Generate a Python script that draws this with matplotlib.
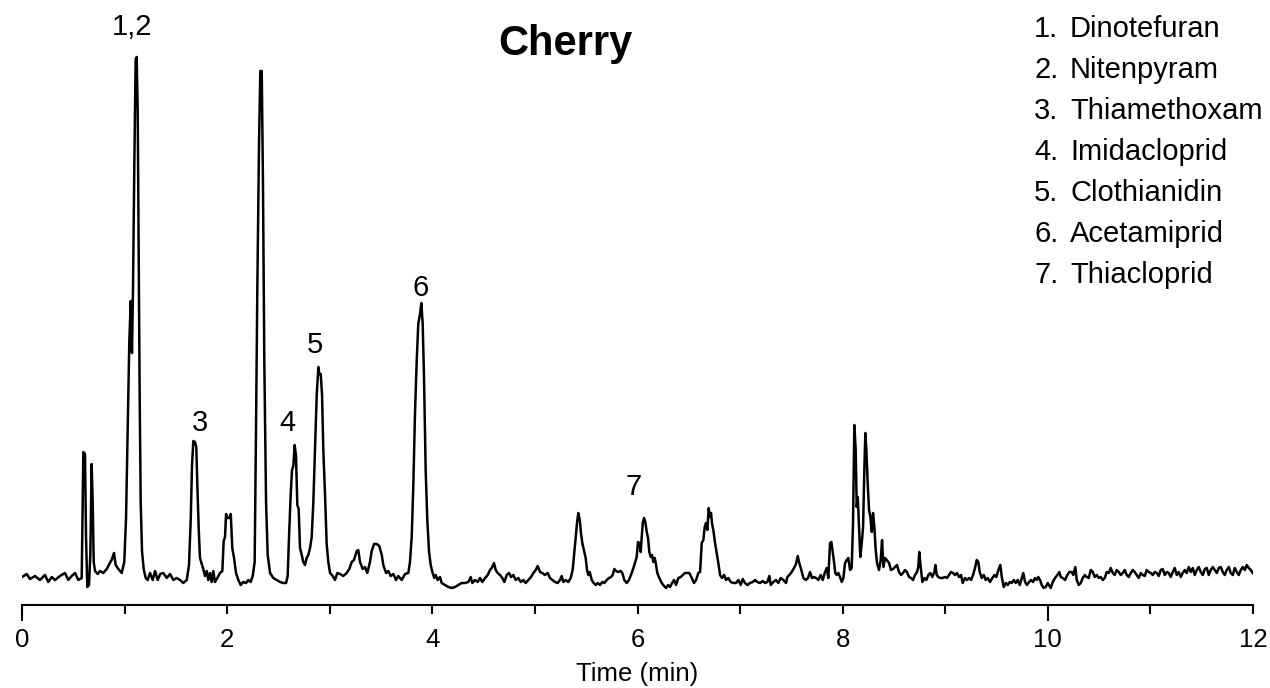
import matplotlib
matplotlib.use('Agg')
import matplotlib.pyplot as plt

plt.rcParams['font.family'] = ['Liberation Sans', 'DejaVu Sans']

# chromatogram: retention time (min) and detector response (arb.)
time_min = [
    0.000, 0.046, 0.078, 0.127, 0.175, 0.224, 0.256, 0.290, 0.322, 0.370,
    0.419, 0.451, 0.484, 0.517, 0.549, 0.582, 0.592, 0.598, 0.614, 0.624,
    0.637, 0.653, 0.666, 0.679, 0.689, 0.699, 0.712, 0.738, 0.760, 0.793,
    0.826, 0.851, 0.874, 0.897, 0.913, 0.939, 0.972, 0.997, 1.014, 1.030,
    1.046, 1.060, 1.072, 1.082, 1.095, 1.108, 1.118, 1.128, 1.138, 1.147,
    1.157, 1.170, 1.186, 1.206, 1.225, 1.248, 1.274, 1.297, 1.323, 1.348,
    1.377, 1.411, 1.443, 1.475, 1.508, 1.540, 1.572, 1.606, 1.628, 1.645,
    1.657, 1.670, 1.686, 1.699, 1.709, 1.723, 1.735, 1.752, 1.767, 1.784,
    1.801, 1.816, 1.833, 1.849, 1.865, 1.881, 1.904, 1.930, 1.953, 1.966,
    1.979, 1.989, 2.001, 2.021, 2.035, 2.050, 2.067, 2.086, 2.109, 2.132,
    2.157, 2.184, 2.206, 2.229, 2.249, 2.268, 2.281, 2.294, 2.310, 2.323,
    2.337, 2.349, 2.362, 2.379, 2.395, 2.418, 2.450, 2.483, 2.515, 2.547,
    2.574, 2.590, 2.603, 2.619, 2.632, 2.645, 2.658, 2.671, 2.684, 2.697,
    2.710, 2.727, 2.742, 2.759, 2.775, 2.791, 2.808, 2.824, 2.840, 2.856,
    2.873, 2.889, 2.898, 2.912, 2.925, 2.937, 2.954, 2.970, 2.986, 3.003,
    3.029, 3.051, 3.074, 3.100, 3.132, 3.165, 3.191, 3.214, 3.236, 3.263,
    3.278, 3.295, 3.321, 3.344, 3.366, 3.392, 3.409, 3.432, 3.458, 3.483,
    3.507, 3.522, 3.549, 3.571, 3.594, 3.620, 3.646, 3.668, 3.701, 3.734,
    3.766, 3.782, 3.799, 3.815, 3.831, 3.848, 3.863, 3.880, 3.893, 3.906,
    3.919, 3.935, 3.951, 3.968, 3.984, 4.000, 4.019, 4.033, 4.052, 4.075,
    4.091, 4.124, 4.156, 4.189, 4.221, 4.253, 4.286, 4.319, 4.351, 4.374,
    4.390, 4.416, 4.442, 4.465, 4.487, 4.514, 4.540, 4.562, 4.579, 4.601,
    4.618, 4.637, 4.660, 4.682, 4.702, 4.725, 4.748, 4.767, 4.790, 4.813,
    4.838, 4.862, 4.887, 4.910, 4.936, 4.962, 4.985, 5.008, 5.027, 5.050,
    5.072, 5.098, 5.125, 5.147, 5.170, 5.196, 5.222, 5.245, 5.261, 5.277,
    5.300, 5.326, 5.349, 5.368, 5.384, 5.398, 5.410, 5.423, 5.437, 5.449,
    5.462, 5.482, 5.495, 5.508, 5.521, 5.534, 5.554, 5.573, 5.593, 5.612,
    5.635, 5.657, 5.677, 5.700, 5.722, 5.742, 5.758, 5.774, 5.791, 5.813,
    5.836, 5.852, 5.871, 5.895, 5.917, 5.944, 5.969, 5.992, 6.005, 6.018,
    6.031, 6.041, 6.051, 6.064, 6.076, 6.090, 6.103, 6.115, 6.129, 6.142,
    6.154, 6.168, 6.181, 6.193, 6.213, 6.236, 6.259, 6.278, 6.298, 6.317,
    6.337, 6.356, 6.376, 6.398, 6.421, 6.441, 6.463, 6.486, 6.505, 6.529,
    6.551, 6.571, 6.593, 6.610, 6.626, 6.642, 6.655, 6.668, 6.681, 6.694,
    6.707, 6.717, 6.726, 6.739, 6.756, 6.772, 6.788, 6.805, 6.824, 6.844,
    6.863, 6.885, 6.909, 6.934, 6.960, 6.983, 7.006, 7.026, 7.048, 7.071,
    7.097, 7.123, 7.146, 7.168, 7.194, 7.221, 7.243, 7.266, 7.285, 7.299,
    7.324, 7.350, 7.373, 7.396, 7.422, 7.448, 7.461, 7.480, 7.503, 7.526,
    7.545, 7.562, 7.577, 7.597, 7.617, 7.640, 7.662, 7.682, 7.701, 7.721,
    7.740, 7.763, 7.786, 7.806, 7.825, 7.845, 7.860, 7.877, 7.890, 7.903,
    7.916, 7.928, 7.942, 7.958, 7.974, 7.991, 8.007, 8.023, 8.040, 8.055,
    8.072, 8.088, 8.101, 8.114, 8.127, 8.137, 8.147, 8.160, 8.172, 8.186,
    8.199, 8.212, 8.221, 8.231, 8.244, 8.257, 8.270, 8.284, 8.296, 8.309,
    8.322, 8.335, 8.354, 8.371, 8.384, 8.397, 8.413, 8.430, 8.452, 8.471,
    8.491, 8.510, 8.530, 8.549, 8.569, 8.588, 8.608, 8.627, 8.647, 8.666,
    8.686, 8.705, 8.725, 8.737, 8.747, 8.761, 8.777, 8.796, 8.816, 8.835,
    8.855, 8.874, 8.894, 8.904, 8.917, 8.933, 8.952, 8.972, 8.998, 9.017,
    9.037, 9.056, 9.076, 9.095, 9.115, 9.134, 9.154, 9.170, 9.193, 9.212,
    9.232, 9.251, 9.271, 9.290, 9.307, 9.322, 9.336, 9.356, 9.375, 9.395,
    9.414, 9.437, 9.459, 9.479, 9.498, 9.518, 9.537, 9.551, 9.570, 9.590,
    9.609, 9.629, 9.648, 9.668, 9.687, 9.707, 9.726, 9.746, 9.761, 9.778,
    9.797, 9.817, 9.836, 9.856, 9.875, 9.892, 9.907, 9.924, 9.940, 9.960,
    9.979, 9.999, 10.028, 10.048, 10.070, 10.093, 10.112, 10.126, 10.145, 10.168,
    10.190, 10.210, 10.233, 10.249, 10.268, 10.282, 10.301, 10.321, 10.340, 10.360,
    10.379, 10.399, 10.418, 10.438, 10.457, 10.477, 10.496, 10.516, 10.535, 10.555,
    10.574, 10.594, 10.613, 10.633, 10.652, 10.672, 10.691, 10.711, 10.730, 10.750,
    10.769, 10.789, 10.808, 10.828, 10.847, 10.867, 10.886, 10.906, 10.925, 10.945,
    10.964, 10.984, 11.003, 11.023, 11.042, 11.062, 11.081, 11.101, 11.120, 11.140,
    11.159, 11.179, 11.198, 11.218, 11.237, 11.257, 11.276, 11.296, 11.315, 11.335,
    11.354, 11.374, 11.393, 11.413, 11.432, 11.452, 11.471, 11.491, 11.510, 11.530,
    11.549, 11.569, 11.588, 11.608, 11.627, 11.647, 11.666, 11.686, 11.705, 11.725,
    11.744, 11.764, 11.783, 11.803, 11.822, 11.842, 11.861, 11.881, 11.900, 11.920,
    11.939, 11.959, 11.978, 11.997,
]
response = [
    3, 6, 1, 4, 0, 5, -2, 3, 0, 4,
    7, 0, 4, 7, 0, 2, 78, 128, 126, 43,
    -7, -5, 25, 116, 78, 18, 9, 6, 9, 7,
    11, 16, 20, 27, 15, 11, 7, 18, 61, 149,
    238, 279, 227, 291, 415, 521, 523, 468, 326, 185,
    78, 29, 11, 2, 0, 7, 0, 9, 0, 6,
    7, 2, 6, 0, 2, 0, -3, 0, 15, 61,
    114, 139, 138, 133, 96, 50, 22, 16, 11, 4,
    9, 0, 7, -2, 9, -2, 2, 7, 9, 39,
    43, 66, 62, 62, 66, 32, 22, 7, 0, -5,
    -2, -3, 0, -2, 4, 18, 149, 291, 433, 509,
    509, 397, 220, 78, 25, 7, 2, 0, -2, -3,
    -3, 4, 43, 85, 110, 114, 135, 124, 75, 71,
    32, 25, 18, 15, 22, 25, 32, 43, 78, 131,
    185, 213, 206, 206, 185, 131, 85, 36, 18, 7,
    4, 0, 7, 6, 4, 7, 11, 18, 20, 29,
    30, 18, 11, 13, 7, 18, 29, 36, 36, 34,
    25, 15, 7, 9, 4, 6, 0, 4, 0, 6,
    7, 18, 43, 96, 167, 220, 256, 266, 277, 256,
    202, 110, 60, 28, 15, 8, 2, 5, 0, 3,
    -3, -5, -7, -8, -7, -5, -3, -3, -2, 3,
    -3, 0, -2, 2, -2, 2, 5, 10, 12, 17,
    10, 7, 5, 2, -2, 5, 7, 3, 5, 0,
    2, -2, 0, -3, 0, 3, 7, 10, 14, 8,
    7, 5, 7, 2, 0, -2, -3, 0, 4, -2,
    0, -2, 2, 10, 27, 43, 57, 67, 60, 47,
    37, 28, 22, 10, 5, 8, 0, -3, -5, -3,
    -5, -2, -3, 0, 2, 3, 5, 11, 9, 8,
    9, 7, 0, -3, 0, 7, 15, 23, 38, 37,
    28, 43, 57, 62, 58, 48, 42, 28, 23, 25,
    18, 22, 15, 7, 2, -3, -6, -8, -5, -7,
    -3, 0, -5, 2, 3, 5, 7, 7, 7, 2,
    -3, 0, 7, 8, 37, 40, 53, 57, 50, 72,
    63, 67, 57, 50, 37, 27, 17, 5, 2, 5,
    0, 2, -2, -3, -3, 0, -5, 1, -3, -5,
    -3, -2, 0, -2, -3, -1, -3, -2, 4, -5,
    -2, 0, -3, 2, 0, -3, 3, 5, 8, 12,
    16, 24, 17, 10, 2, 0, 2, 8, 2, 3,
    2, 0, 5, 0, 7, 12, 2, 37, 38, 28,
    18, 7, 5, 7, 3, -2, 2, 17, 20, 22,
    10, 12, 57, 155, 130, 73, 83, 53, 23, 37,
    53, 113, 147, 130, 97, 70, 63, 48, 67, 53,
    30, 17, 10, 20, 40, 13, 22, 20, 17, 10,
    11, 13, 15, 8, 5, 7, 10, 8, 3, 2,
    0, 5, 8, 13, 28, 13, -2, 2, 0, 5,
    7, 3, 8, 15, 5, 3, 2, 2, 3, 2,
    5, 8, 7, 5, 7, 3, 5, -3, 2, 0,
    2, 0, 5, 12, 20, 18, 8, 2, 5, 0,
    2, -2, 2, 5, 3, 10, 15, 3, -7, -3,
    -5, -2, -3, 0, -3, 0, -5, 2, 7, -2,
    -5, -2, 0, -2, 2, 0, 3, 0, -5, -8,
    -7, -3, -8, -2, 2, 5, 8, 3, 2, 0,
    5, 8, 8, 5, 13, 0, -5, -3, 2, 5,
    3, 2, 10, 8, 3, 5, 2, 3, 0, 2,
    8, 7, 12, 7, 5, 10, 8, 5, 7, 10,
    5, 3, 7, 10, 8, 5, 2, 7, 5, 4,
    10, 8, 7, 5, 8, 7, 4, 10, 11, 5,
    8, 7, 3, 8, 12, 5, 8, 3, 7, 10,
    7, 13, 8, 12, 5, 10, 13, 8, 5, 11,
    12, 5, 10, 13, 10, 7, 12, 13, 8, 5,
    10, 13, 7, 5, 12, 8, 5, 10, 13, 10,
    15, 12, 10, 7,
]

compounds = ['Dinotefuran', 'Nitenpyram', 'Thiamethoxam', 'Imidacloprid',
             'Clothianidin', 'Acetamiprid', 'Thiacloprid']

# peak numbers written above the trace
peak_labels = ['1,2', '3', '4', '5', '6', '7']
peak_times = [1.072, 1.735, 2.583, 2.856, 3.890, 5.966]
label_heights = [545, 149, 149, 227, 284, 85]

fig = plt.figure(figsize=(12.7, 6.88), dpi=100)
ax = fig.add_axes([22 / 1270, 83 / 688, 1231 / 1270, 565 / 688])

ax.plot(time_min, response, color='black', lw=1.8)

ax.set_xlim(0, 12)
ax.set_ylim(-25, 540)
for side in ['top', 'left', 'right']:
    ax.spines[side].set_visible(False)
ax.spines['bottom'].set_linewidth(1.5)
ax.set_yticks([])

ax.set_xticks(range(13))
ax.set_xticklabels([str(i) if i % 2 == 0 else '' for i in range(13)])
ax.tick_params(axis='x', direction='out', length=6.5, width=1.5,
               labelsize=18.5, pad=10)
ax.set_xlabel('Time (min)', fontsize=18.5, labelpad=7)

# every 10 min the tick is drawn longer
for i in [0, 10]:
    ax.xaxis.get_major_ticks()[i].tick1line.set_markersize(11.5)

for lab, t, h in zip(peak_labels, peak_times, label_heights):
    ax.text(t, h, lab, fontsize=21, ha='center', va='baseline')

fig.text(565 / 1270, 1 - 55 / 688, 'Cherry', fontsize=30, fontweight='bold',
         ha='center', va='baseline')

# list of compounds, top right
for i, name in enumerate(compounds):
    y = 1 - (37 + 41 * i) / 688
    fig.text(1034 / 1270, y, f'{i + 1}.', fontsize=21, ha='left', va='baseline')
    fig.text(1070 / 1270, y, name, fontsize=21, ha='left', va='baseline')

fig.savefig('out.png', dpi=100)
